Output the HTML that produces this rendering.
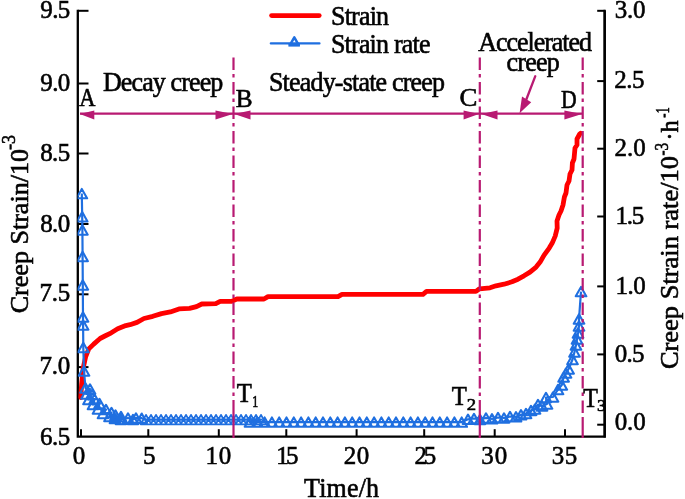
<!DOCTYPE html>
<html><head><meta charset="utf-8"><style>
html,body{margin:0;padding:0;background:#fff;}
body{width:685px;height:499px;overflow:hidden;}
svg{display:block;}
</style></head><body>
<svg width="685" height="499" viewBox="0 0 685 499">
<defs><clipPath id="pa"><rect x="77.6" y="0" width="527" height="436"/></clipPath></defs>
<rect width="685" height="499" fill="#fff"/>
<g stroke="#000" stroke-width="2.3" fill="none" stroke-linecap="square">
<path d="M77.8,10.8V436.7H604.7V10.8"/>
</g>
<g stroke="#000" stroke-width="2" fill="none">
<line x1="77.8" y1="10.8" x2="88.5" y2="10.8"/>
<line x1="77.8" y1="83.5" x2="88.5" y2="83.5"/>
<line x1="77.8" y1="153.5" x2="88.5" y2="153.5"/>
<line x1="77.8" y1="224.0" x2="88.5" y2="224.0"/>
<line x1="77.8" y1="294.3" x2="88.5" y2="294.3"/>
<line x1="77.8" y1="367.1" x2="88.5" y2="367.1"/>
<line x1="597.2" y1="10.8" x2="604.7" y2="10.8"/>
<line x1="597.2" y1="81.1" x2="604.7" y2="81.1"/>
<line x1="597.2" y1="148.7" x2="604.7" y2="148.7"/>
<line x1="597.2" y1="216.5" x2="604.7" y2="216.5"/>
<line x1="597.2" y1="286.4" x2="604.7" y2="286.4"/>
<line x1="597.2" y1="354.4" x2="604.7" y2="354.4"/>
<line x1="597.2" y1="424.7" x2="604.7" y2="424.7"/>
<line x1="81.0" y1="436.7" x2="81.0" y2="429.2"/>
<line x1="148.3" y1="436.7" x2="148.3" y2="429.2"/>
<line x1="218.8" y1="436.7" x2="218.8" y2="429.2"/>
<line x1="286.3" y1="436.7" x2="286.3" y2="429.2"/>
<line x1="356.6" y1="436.7" x2="356.6" y2="429.2"/>
<line x1="424.2" y1="436.7" x2="424.2" y2="429.2"/>
<line x1="494.7" y1="436.7" x2="494.7" y2="429.2"/>
<line x1="565.0" y1="436.7" x2="565.0" y2="429.2"/>
</g>
<g clip-path="url(#pa)">
<polyline fill="none" stroke="#ff0000" stroke-width="4.8" stroke-linejoin="round" stroke-linecap="round" points="80.8,397.5 81.6,384.2 83.2,368.1 85.6,356.9 88.8,348.9 93.7,344.1 100.1,338.5 104.9,336.0 111.3,332.8 117.7,328.8 125.8,325.6 130.0,324.7 137.0,322.4 144.0,318.5 152.8,316.3 161.5,313.6 170.3,311.9 179.0,308.9 189.5,308.4 196.5,306.6 201.8,304.0 215.8,303.7 220.2,301.4 231.6,301.4 236.8,299.0 264.0,299.0 268.0,296.6 338.0,296.6 342.0,294.3 423.0,294.3 426.5,291.4 476.0,291.4 479.5,288.8 490.0,287.8 496.0,285.8 504.0,284.2 512.0,281.8 518.0,279.2 524.0,275.8 530.0,272.1 536.1,267.1 540.1,262.1 544.1,255.1 549.2,248.1 552.2,243.1 555.2,236.1 557.2,228.1 557.0,221.0 559.0,215.0 561.0,211.0 563.0,205.0 564.4,197.0 566.0,193.0 567.0,185.0 569.0,181.0 570.0,174.0 572.0,170.0 572.4,163.0 574.0,159.0 575.0,148.0 577.0,145.0 577.0,139.0 579.7,134.0 580.6,133.2"/>
<polyline fill="none" stroke="#1f6fe0" stroke-width="2.2" stroke-linejoin="round" points="81.8,193.6 82.2,216.8 82.4,230.0 82.6,256.5 82.8,285.0 83.0,317.0 83.1,325.0 83.3,347.5 84.0,371.0 85.5,388.0 90.0,389.0 86.5,394.0 92.0,394.5 88.5,399.5 94.5,399.0 93.0,404.5 99.5,403.5 98.0,409.0 106.0,409.5 103.0,413.5 111.5,412.5 109.5,416.5 115.5,415.0 115.0,418.5 121.0,416.5 121.0,419.5 128.0,418.0 133.0,419.5 136.0,418.0 141.7,418.2 146.0,419.6 151.0,419.6 156.0,419.6 161.0,419.6 166.0,419.6 171.0,419.6 176.0,419.6 181.0,419.6 186.0,419.6 191.0,419.6 196.0,419.6 201.0,419.6 206.0,419.6 211.0,419.6 216.0,419.6 221.0,419.6 226.0,419.6 231.0,419.6 236.0,419.6 241.0,419.6 246.0,419.6 251.0,419.6 256.0,419.6 261.0,419.6 250.0,422.1 257.3,422.1 264.6,422.1 271.9,422.1 279.2,422.1 286.5,422.1 293.8,422.1 301.1,422.1 308.4,422.1 315.7,422.1 323.0,422.1 330.3,422.1 337.6,422.1 344.9,422.1 352.2,422.1 359.5,422.1 366.8,422.1 374.1,422.1 381.4,422.1 388.7,422.1 396.0,422.1 403.3,422.1 410.6,422.1 417.9,422.1 425.2,422.1 432.5,422.1 439.8,422.1 447.1,422.1 454.4,422.1 461.7,422.1 468.0,419.3 474.0,418.5 480.0,419.5 486.0,418.0 492.0,418.8 498.0,417.5 504.0,418.0 510.0,416.5 516.0,416.8 521.0,414.8 526.0,413.5 531.0,410.5 535.0,409.0 538.0,404.5 542.0,406.0 547.0,404.0 546.0,397.5 553.0,397.0 558.0,389.5 561.8,385.0 563.6,377.0 566.0,373.0 568.6,369.0 572.5,359.5 574.5,352.0 576.0,345.0 577.0,339.0 578.0,333.0 579.0,326.0 579.0,319.0 581.0,291.6"/>
<path fill="none" stroke="#1f6fe0" stroke-width="2.1" stroke-linejoin="round" d="M81.80,188.90L87.10,198.30L76.50,198.30ZM82.20,212.10L87.50,221.50L76.90,221.50ZM82.40,225.30L87.70,234.70L77.10,234.70ZM82.60,251.80L87.90,261.20L77.30,261.20ZM82.80,280.30L88.10,289.70L77.50,289.70ZM83.00,312.30L88.30,321.70L77.70,321.70ZM83.10,320.30L88.40,329.70L77.80,329.70ZM83.30,342.80L88.60,352.20L78.00,352.20ZM84.00,366.30L89.30,375.70L78.70,375.70ZM85.50,383.30L90.80,392.70L80.20,392.70ZM90.00,384.30L95.30,393.70L84.70,393.70ZM86.50,389.30L91.80,398.70L81.20,398.70ZM92.00,389.80L97.30,399.20L86.70,399.20ZM88.50,394.80L93.80,404.20L83.20,404.20ZM94.50,394.30L99.80,403.70L89.20,403.70ZM93.00,399.80L98.30,409.20L87.70,409.20ZM99.50,398.80L104.80,408.20L94.20,408.20ZM98.00,404.30L103.30,413.70L92.70,413.70ZM106.00,404.80L111.30,414.20L100.70,414.20ZM103.00,408.80L108.30,418.20L97.70,418.20ZM111.50,407.80L116.80,417.20L106.20,417.20ZM109.50,411.80L114.80,421.20L104.20,421.20ZM115.50,410.30L120.80,419.70L110.20,419.70ZM115.00,413.80L120.30,423.20L109.70,423.20ZM121.00,411.80L126.30,421.20L115.70,421.20ZM121.00,414.80L126.30,424.20L115.70,424.20ZM128.00,413.30L133.30,422.70L122.70,422.70ZM133.00,414.80L138.30,424.20L127.70,424.20ZM136.00,413.30L141.30,422.70L130.70,422.70ZM141.70,413.50L147.00,422.90L136.40,422.90ZM468.00,414.60L473.30,424.00L462.70,424.00ZM474.00,413.80L479.30,423.20L468.70,423.20ZM480.00,414.80L485.30,424.20L474.70,424.20ZM486.00,413.30L491.30,422.70L480.70,422.70ZM492.00,414.10L497.30,423.50L486.70,423.50ZM498.00,412.80L503.30,422.20L492.70,422.20ZM504.00,413.30L509.30,422.70L498.70,422.70ZM510.00,411.80L515.30,421.20L504.70,421.20ZM516.00,412.10L521.30,421.50L510.70,421.50ZM521.00,410.10L526.30,419.50L515.70,419.50ZM526.00,408.80L531.30,418.20L520.70,418.20ZM531.00,405.80L536.30,415.20L525.70,415.20ZM535.00,404.30L540.30,413.70L529.70,413.70ZM538.00,399.80L543.30,409.20L532.70,409.20ZM542.00,401.30L547.30,410.70L536.70,410.70ZM547.00,399.30L552.30,408.70L541.70,408.70ZM546.00,392.80L551.30,402.20L540.70,402.20ZM553.00,392.30L558.30,401.70L547.70,401.70ZM558.00,384.80L563.30,394.20L552.70,394.20ZM561.80,380.30L567.10,389.70L556.50,389.70ZM563.60,372.30L568.90,381.70L558.30,381.70ZM566.00,368.30L571.30,377.70L560.70,377.70ZM568.60,364.30L573.90,373.70L563.30,373.70ZM572.50,354.80L577.80,364.20L567.20,364.20ZM574.50,347.30L579.80,356.70L569.20,356.70ZM576.00,340.30L581.30,349.70L570.70,349.70ZM577.00,334.30L582.30,343.70L571.70,343.70ZM578.00,328.30L583.30,337.70L572.70,337.70ZM579.00,321.30L584.30,330.70L573.70,330.70ZM579.00,314.30L584.30,323.70L573.70,323.70ZM581.00,286.90L586.30,296.30L575.70,296.30Z"/>
<path fill="none" stroke="#1f6fe0" stroke-width="1.8" stroke-linejoin="round" d="M146.00,414.90L151.30,424.30L140.70,424.30ZM151.00,414.90L156.30,424.30L145.70,424.30ZM156.00,414.90L161.30,424.30L150.70,424.30ZM161.00,414.90L166.30,424.30L155.70,424.30ZM166.00,414.90L171.30,424.30L160.70,424.30ZM171.00,414.90L176.30,424.30L165.70,424.30ZM176.00,414.90L181.30,424.30L170.70,424.30ZM181.00,414.90L186.30,424.30L175.70,424.30ZM186.00,414.90L191.30,424.30L180.70,424.30ZM191.00,414.90L196.30,424.30L185.70,424.30ZM196.00,414.90L201.30,424.30L190.70,424.30ZM201.00,414.90L206.30,424.30L195.70,424.30ZM206.00,414.90L211.30,424.30L200.70,424.30ZM211.00,414.90L216.30,424.30L205.70,424.30ZM216.00,414.90L221.30,424.30L210.70,424.30ZM221.00,414.90L226.30,424.30L215.70,424.30ZM226.00,414.90L231.30,424.30L220.70,424.30ZM231.00,414.90L236.30,424.30L225.70,424.30ZM236.00,414.90L241.30,424.30L230.70,424.30ZM241.00,414.90L246.30,424.30L235.70,424.30ZM246.00,414.90L251.30,424.30L240.70,424.30ZM251.00,414.90L256.30,424.30L245.70,424.30ZM256.00,414.90L261.30,424.30L250.70,424.30ZM261.00,414.90L266.30,424.30L255.70,424.30Z"/>
<path fill="none" stroke="#1f6fe0" stroke-width="2.1" stroke-linejoin="round" d="M250.00,417.40L255.30,426.80L244.70,426.80ZM257.30,417.40L262.60,426.80L252.00,426.80ZM264.60,417.40L269.90,426.80L259.30,426.80ZM271.90,417.40L277.20,426.80L266.60,426.80ZM279.20,417.40L284.50,426.80L273.90,426.80ZM286.50,417.40L291.80,426.80L281.20,426.80ZM293.80,417.40L299.10,426.80L288.50,426.80ZM301.10,417.40L306.40,426.80L295.80,426.80ZM308.40,417.40L313.70,426.80L303.10,426.80ZM315.70,417.40L321.00,426.80L310.40,426.80ZM323.00,417.40L328.30,426.80L317.70,426.80ZM330.30,417.40L335.60,426.80L325.00,426.80ZM337.60,417.40L342.90,426.80L332.30,426.80ZM344.90,417.40L350.20,426.80L339.60,426.80ZM352.20,417.40L357.50,426.80L346.90,426.80ZM359.50,417.40L364.80,426.80L354.20,426.80ZM366.80,417.40L372.10,426.80L361.50,426.80ZM374.10,417.40L379.40,426.80L368.80,426.80ZM381.40,417.40L386.70,426.80L376.10,426.80ZM388.70,417.40L394.00,426.80L383.40,426.80ZM396.00,417.40L401.30,426.80L390.70,426.80ZM403.30,417.40L408.60,426.80L398.00,426.80ZM410.60,417.40L415.90,426.80L405.30,426.80ZM417.90,417.40L423.20,426.80L412.60,426.80ZM425.20,417.40L430.50,426.80L419.90,426.80ZM432.50,417.40L437.80,426.80L427.20,426.80ZM439.80,417.40L445.10,426.80L434.50,426.80ZM447.10,417.40L452.40,426.80L441.80,426.80ZM454.40,417.40L459.70,426.80L449.10,426.80ZM461.70,417.40L467.00,426.80L456.40,426.80Z"/>
</g>
<line x1="233.5" y1="57.5" x2="233.5" y2="400" stroke="#b81a72" stroke-width="2.2" stroke-dasharray="12.5 4 3.5 4.5"/>
<line x1="233.5" y1="400" x2="233.5" y2="438" stroke="#b81a72" stroke-width="2.2"/>
<line x1="479.8" y1="57.5" x2="479.8" y2="400" stroke="#b81a72" stroke-width="2.2" stroke-dasharray="12.5 4 3.5 4.5"/>
<line x1="479.8" y1="400" x2="479.8" y2="438" stroke="#b81a72" stroke-width="2.2"/>
<line x1="582.7" y1="57.5" x2="582.7" y2="419" stroke="#b81a72" stroke-width="2.2" stroke-dasharray="12.5 4 3.5 4.5"/>
<line x1="582.7" y1="419" x2="582.7" y2="438" stroke="#b81a72" stroke-width="2.2"/>
<line x1="80" y1="113.6" x2="582" y2="113.6" stroke="#b81a72" stroke-width="2.3"/>
<path fill="#b81a72" d="M79.8,113.9L94.3,110.4L94.3,119.5ZM232.8,113.9L215.5,110.4L215.5,119.5ZM234.2,113.9L250.5,110.4L250.5,119.5ZM478.9,113.9L463.59999999999997,110.4L463.59999999999997,119.5ZM481.3,113.9L497.5,110.4L497.5,119.5ZM582.0,113.9L564.4,110.4L564.4,119.5Z"/>
<line x1="535.3" y1="76.2" x2="526.3" y2="99.5" stroke="#b81a72" stroke-width="2.3" stroke-linecap="round"/>
<path fill="#b81a72" d="M519.6,113.2L522.0,96.4L531.2,102.2Z"/>
<line x1="271.6" y1="15.6" x2="319.2" y2="15.6" stroke="#ff0000" stroke-width="4.8" stroke-linecap="round"/>
<line x1="270.8" y1="43.4" x2="319.5" y2="43.4" stroke="#1f6fe0" stroke-width="2.2" stroke-linecap="round"/>
<path d="M294.3,37.3L298.6,44.8L290,44.8Z" fill="none" stroke="#1f6fe0" stroke-width="2.5" stroke-linejoin="round"/>
<rect x="288.4" y="43.3" width="11.5" height="3.3" fill="#1f6fe0"/>
<g font-family='"Liberation Serif", serif' fill="#000" stroke="#000" stroke-width="0.6" opacity="0.995">
<text x="40.29" y="17.80" font-size="25" textLength="29.98" lengthAdjust="spacing" transform="matrix(1,0,0,1.045,0,-0.801)">9.5</text>
<text x="40.29" y="91.00" font-size="25" textLength="29.96" lengthAdjust="spacing" transform="matrix(1,0,0,1.045,0,-4.095)">9.0</text>
<text x="40.15" y="161.20" font-size="25" textLength="30.13" lengthAdjust="spacing" transform="matrix(1,0,0,1.045,0,-7.254)">8.5</text>
<text x="40.15" y="231.70" font-size="25" textLength="30.10" lengthAdjust="spacing" transform="matrix(1,0,0,1.045,0,-10.426)">8.0</text>
<text x="39.45" y="301.50" font-size="25" textLength="30.82" lengthAdjust="spacing" transform="matrix(1,0,0,1.045,0,-13.567)">7.5</text>
<text x="39.45" y="374.50" font-size="25" textLength="30.80" lengthAdjust="spacing" transform="matrix(1,0,0,1.045,0,-16.852)">7.0</text>
<text x="40.03" y="444.70" font-size="25" textLength="30.25" lengthAdjust="spacing" transform="matrix(1,0,0,1.045,0,-20.011)">6.5</text>
<text x="614.70" y="17.80" font-size="25" textLength="30.85" lengthAdjust="spacing" transform="matrix(1,0,0,1.045,0,-0.801)">3.0</text>
<text x="614.20" y="88.30" font-size="25" textLength="30.18" lengthAdjust="spacing" transform="matrix(1,0,0,1.045,0,-3.973)">2.5</text>
<text x="614.50" y="156.40" font-size="25" textLength="31.15" lengthAdjust="spacing" transform="matrix(1,0,0,1.045,0,-7.038)">2.0</text>
<text x="615.50" y="223.60" font-size="25" textLength="28.87" lengthAdjust="spacing" transform="matrix(1,0,0,1.045,0,-10.062)">1.5</text>
<text x="615.50" y="294.30" font-size="25" textLength="30.15" lengthAdjust="spacing" transform="matrix(1,0,0,1.045,0,-13.243)">1.0</text>
<text x="614.65" y="361.70" font-size="25" textLength="29.73" lengthAdjust="spacing" transform="matrix(1,0,0,1.045,0,-16.276)">0.5</text>
<text x="614.65" y="429.70" font-size="25" textLength="31.00" lengthAdjust="spacing" transform="matrix(1,0,0,1.045,0,-19.336)">0.0</text>
<text x="72.85" y="464.4" font-size="25" transform="matrix(1,0,0,1.045,0,-20.898)">0</text>
<text x="142.96" y="464.4" font-size="25" transform="matrix(1,0,0,1.045,0,-20.898)">5</text>
<text x="205.50" y="464.4" font-size="25" transform="matrix(1,0,0,1.045,0,-20.898)">1</text>
<text x="218.85" y="464.4" font-size="25" transform="matrix(1,0,0,1.045,0,-20.898)">0</text>
<text x="276.30" y="464.4" font-size="25" transform="matrix(1,0,0,1.045,0,-20.898)">1</text>
<text x="285.96" y="464.4" font-size="25" transform="matrix(1,0,0,1.045,0,-20.898)">5</text>
<text x="343.84" y="464.4" font-size="25" transform="matrix(1,0,0,1.045,0,-20.898)">2</text>
<text x="356.85" y="464.4" font-size="25" transform="matrix(1,0,0,1.045,0,-20.898)">0</text>
<text x="414.49" y="464.4" font-size="25" transform="matrix(1,0,0,1.045,0,-20.898)">2</text>
<text x="423.66" y="464.4" font-size="25" transform="matrix(1,0,0,1.045,0,-20.898)">5</text>
<text x="481.29" y="464.4" font-size="25" transform="matrix(1,0,0,1.045,0,-20.898)">3</text>
<text x="494.85" y="464.4" font-size="25" transform="matrix(1,0,0,1.045,0,-20.898)">0</text>
<text x="551.69" y="464.4" font-size="25" transform="matrix(1,0,0,1.045,0,-20.898)">3</text>
<text x="564.76" y="464.4" font-size="25" transform="matrix(1,0,0,1.045,0,-20.898)">5</text>
<text x="304.03" y="496.60" font-size="26" textLength="75.11" lengthAdjust="spacing" transform="matrix(1,0,0,1.045,0,-22.347)">Time/h</text>
<text x="330.96" y="25.30" font-size="26" textLength="58.13" lengthAdjust="spacing" transform="matrix(1,0,0,1.045,0,-1.138)">Strain</text>
<text x="330.96" y="53.00" font-size="26" textLength="99.54" lengthAdjust="spacing" transform="matrix(1,0,0,1.045,0,-2.385)">Strain rate</text>
<text x="102.95" y="91.20" font-size="26" textLength="120.36" lengthAdjust="spacing" transform="matrix(1,0,0,1.045,0,-4.104)">Decay creep</text>
<text x="268.96" y="91.30" font-size="26" textLength="176.05" lengthAdjust="spacing" transform="matrix(1,0,0,1.045,0,-4.108)">Steady-state creep</text>
<text x="478.25" y="51.00" font-size="26" textLength="113.77" lengthAdjust="spacing" transform="matrix(1,0,0,1.045,0,-2.295)">Accelerated</text>
<text x="506.51" y="71.00" font-size="26" textLength="53.21" lengthAdjust="spacing" transform="matrix(1,0,0,1.045,0,-3.195)">creep</text>
<text x="79.38" y="105.60" font-size="25" textLength="16.18" lengthAdjust="spacingAndGlyphs" transform="matrix(1,0,0,1.045,0,-4.752)">A</text>
<text x="235.77" y="107.40" font-size="25" textLength="16.86" lengthAdjust="spacingAndGlyphs" transform="matrix(1,0,0,1.045,0,-4.833)">B</text>
<text x="459.40" y="106.40" font-size="25" textLength="17.88" lengthAdjust="spacingAndGlyphs" transform="matrix(1,0,0,1.045,0,-4.788)">C</text>
<text x="560.97" y="108.00" font-size="25" textLength="15.70" lengthAdjust="spacingAndGlyphs" transform="matrix(1,0,0,1.045,0,-4.860)">D</text>
<text x="236.85" y="402.30" font-size="25.3" textLength="15.05" lengthAdjust="spacingAndGlyphs" transform="matrix(1,0,0,1.045,0,-18.103)">T</text><text x="252.25" y="407.00" font-size="17" textLength="5.97" lengthAdjust="spacingAndGlyphs" transform="matrix(1,0,0,1.045,0,-18.315)">1</text>
<text x="451.85" y="404.60" font-size="25.3" textLength="15.05" lengthAdjust="spacingAndGlyphs" transform="matrix(1,0,0,1.045,0,-18.207)">T</text><text x="466.68" y="410.20" font-size="17" textLength="9.35" lengthAdjust="spacingAndGlyphs" transform="matrix(1,0,0,1.045,0,-18.459)">2</text>
<text x="583.27" y="406.80" font-size="25.3" textLength="14.63" lengthAdjust="spacingAndGlyphs" transform="matrix(1,0,0,1.045,0,-18.306)">T</text><text x="597.13" y="411.50" font-size="17" textLength="9.08" lengthAdjust="spacingAndGlyphs" transform="matrix(1,0,0,1.045,0,-18.517)">3</text>
<text transform="translate(27.50,313.27) rotate(-90)" font-size="25" textLength="164.26" lengthAdjust="spacingAndGlyphs">Creep Strain/10</text>
<text transform="translate(15.00,150.07) rotate(-90)" font-size="19.5" textLength="15.08" lengthAdjust="spacingAndGlyphs">-3</text>
<text transform="translate(677.80,369.09) rotate(-90)" font-size="25" textLength="213.09" lengthAdjust="spacingAndGlyphs">Creep Strain rate/10</text>
<text transform="translate(668.40,155.57) rotate(-90)" font-size="18.5" textLength="12.77" lengthAdjust="spacingAndGlyphs">-3</text>
<text transform="translate(677.80,140.61) rotate(-90)" font-size="25" textLength="20.23" lengthAdjust="spacingAndGlyphs">·h</text>
<text transform="translate(668.80,117.87) rotate(-90)" font-size="18.5" textLength="10.64" lengthAdjust="spacingAndGlyphs">-1</text>
</g>
<line x1="604.7" y1="10.8" x2="604.7" y2="437.5" stroke="#000" stroke-width="2.3"/>
<rect x="606" y="395" width="6" height="20" fill="#fff"/>
</svg>
</body></html>
